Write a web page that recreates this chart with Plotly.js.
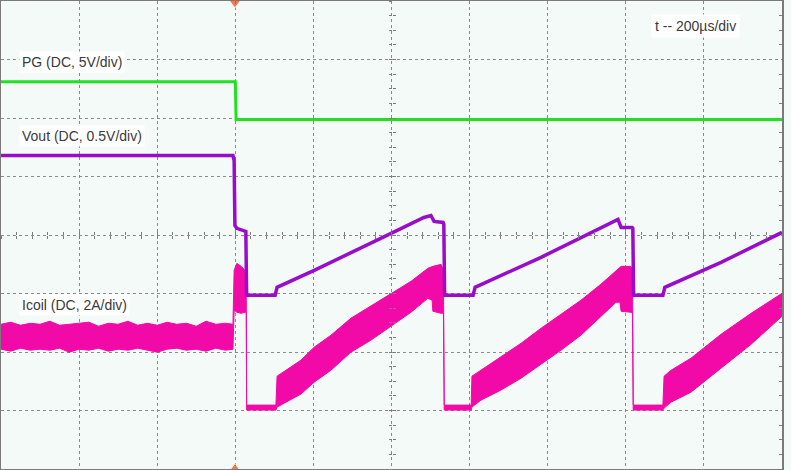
<!DOCTYPE html>
<html><head><meta charset="utf-8">
<script src="https://cdn.plot.ly/plotly-3.0.1.min.js"></script>
<style>html,body{margin:0;padding:0;background:#f4faf7}#chart{width:791px;height:470px}</style>
</head><body><div id="chart"></div>
<script>
// Time axis in microseconds (200 µs/div, 10 div); vertical values in screen divisions (0 = bottom, 8 = top)
const pgTime = [0, 600, 602, 2000];
const pgDiv  = [6.621, 6.621, 5.973, 5.973];

const voutTime = [0, 594, 597, 599, 604, 625, 627, 629, 702, 707, 802, 999, 1083, 1101, 1109, 1132, 1134, 1136, 1209, 1214, 1383, 1580, 1588, 1616, 1618, 1620, 1695, 1700, 1844, 2000];
const voutDiv  = [5.358, 5.358, 5.273, 4.164, 4.113, 4.078, 4.061, 2.969, 2.969, 3.106, 3.396, 4.027, 4.300, 4.334, 4.232, 4.215, 4.181, 2.969, 2.969, 3.106, 3.618, 4.266, 4.130, 4.130, 4.113, 2.969, 2.969, 3.106, 3.532, 4.044];

const icoilTime = [0, 25, 50, 75, 100, 125, 150, 175, 200, 225, 250, 275, 300, 325, 350, 375, 400, 425, 450, 475, 500, 525, 550, 575, 594,
  597, 604, 615, 625, 628, 629, 704,
  707, 730, 768, 802, 845, 896, 947, 999, 1050, 1093, 1104, 1106, 1127, 1133, 1135, 1204,
  1206, 1229, 1280, 1332, 1383, 1434, 1485, 1536, 1575, 1585, 1588, 1613, 1617, 1619, 1695,
  1698, 1716, 1767, 1844, 1921, 2000];
const icoilHigh = [2.474, 2.509, 2.457, 2.491, 2.474, 2.526, 2.457, 2.474, 2.491, 2.509, 2.440, 2.491, 2.474, 2.526, 2.457, 2.491, 2.457, 2.509, 2.474, 2.491, 2.440, 2.526, 2.474, 2.491, 2.474,
  3.396, 3.515, 3.464, 3.396, 3.396, 1.092, 1.092,
  1.587, 1.689, 1.860, 2.082, 2.287, 2.577, 2.782, 3.003, 3.208, 3.430, 3.464, 3.464, 3.498, 3.396, 1.092, 1.092,
  1.587, 1.689, 1.911, 2.150, 2.406, 2.645, 2.884, 3.157, 3.396, 3.447, 3.464, 3.464, 3.413, 1.092, 1.092,
  1.587, 1.689, 1.894, 2.304, 2.662, 3.003];
const icoilLow  = [2.048, 2.014, 2.065, 2.031, 2.048, 2.031, 2.065, 1.997, 2.048, 2.031, 2.065, 2.014, 2.048, 2.031, 2.065, 2.031, 1.997, 2.048, 2.065, 2.031, 2.048, 2.014, 2.065, 2.031, 2.048,
  2.713, 2.679, 2.662, 2.679, 2.679, 1.007, 1.007,
  1.058, 1.143, 1.280, 1.485, 1.689, 1.997, 2.201, 2.440, 2.679, 2.918, 2.884, 2.696, 2.662, 2.662, 1.007, 1.007,
  1.058, 1.177, 1.348, 1.553, 1.792, 2.031, 2.287, 2.611, 2.850, 2.850, 2.696, 2.679, 2.662, 1.007, 1.007,
  1.041, 1.143, 1.314, 1.724, 2.133, 2.611];

const triggerTime = [599, 599];
const triggerDiv = [8, 0];
const levelMarkerTime = [2012, 2012, 2012, 2012];
const levelMarkerDiv = [6.314, 5.973, 2.986, 1.007];
const levelMarkerColors = ['#20e020', '#20e020', '#f20aa8', '#f20aa8'];

const labels = ['PG (DC, 5V/div)', 'Vout (DC, 0.5V/div)', 'Icoil (DC, 2A/div)', 't -- 200µs/div'];

const PG_COLOR = '#20e020', VOUT_COLOR = '#9a0ccc', ICOIL_COLOR = '#f20aa8';

const traces = [
  {x: icoilTime.concat(icoilTime.slice().reverse()), y: icoilHigh.concat(icoilLow.slice().reverse()),
   type: 'scatter', mode: 'lines', fill: 'toself', fillcolor: ICOIL_COLOR,
   line: {color: ICOIL_COLOR, width: 1}, hoverinfo: 'skip'},
  {x: voutTime, y: voutDiv, type: 'scatter', mode: 'lines', line: {color: VOUT_COLOR, width: 3.5}, hoverinfo: 'skip'},
  {x: pgTime, y: pgDiv, type: 'scatter', mode: 'lines', line: {color: PG_COLOR, width: 3}, hoverinfo: 'skip'},
  {x: triggerTime, y: triggerDiv, type: 'scatter', mode: 'markers', cliponaxis: false,
   marker: {symbol: ['triangle-down', 'triangle-up'], size: [14, 11], color: '#ff4010'}, hoverinfo: 'skip'},
  {x: levelMarkerTime, y: levelMarkerDiv, type: 'scatter', mode: 'markers', cliponaxis: false,
   marker: {symbol: 'triangle-left', size: 6, color: levelMarkerColors}, hoverinfo: 'skip'},
  {x: [0], y: [0], xaxis: 'x2', yaxis: 'y2', mode: 'markers', marker: {opacity: 0}, hoverinfo: 'skip'},
  {x: [0], y: [0], xaxis: 'x3', yaxis: 'y3', mode: 'markers', marker: {opacity: 0}, hoverinfo: 'skip'}
];

const tickCol = '#7d7d7d';
const centerX = {range: [0, 2000], showgrid: false, zeroline: false, showline: false, showticklabels: false,
  anchor: 'free', position: 0.5, overlaying: 'x', side: 'bottom', tickmode: 'linear', tick0: 0, dtick: 200,
  ticklen: 3, tickcolor: tickCol, minor: {dtick: 40, ticklen: 3, tickcolor: tickCol}};
const centerY = {range: [0, 8], showgrid: false, zeroline: false, showline: false, showticklabels: false,
  anchor: 'free', position: 0.5, overlaying: 'y', side: 'left', tickmode: 'linear', tick0: 0, dtick: 1,
  ticklen: 3, tickcolor: tickCol, minor: {dtick: 0.25, ticklen: 3, tickcolor: tickCol}};

const annFont = {family: 'Liberation Sans, Arial, sans-serif', size: 14, color: '#3a3a3a'};
const layout = {
  width: 791, height: 470,
  margin: {l: 1, r: 9, t: 1, b: 1, autoexpand: false},
  paper_bgcolor: '#f4faf7', plot_bgcolor: '#f4faf7',
  showlegend: false,
  xaxis: {range: [0, 2000], tickmode: 'linear', tick0: 0, dtick: 200, showgrid: true,
    gridcolor: '#8a8a8a', griddash: 'dot', gridwidth: 1, zeroline: false,
    showline: true, mirror: true, linecolor: '#7a7a7a', linewidth: 2, showticklabels: false, ticks: ''},
  yaxis: {range: [0, 8], tickmode: 'linear', tick0: 0, dtick: 1, showgrid: true,
    gridcolor: '#8a8a8a', griddash: 'dot', gridwidth: 1, zeroline: false, side: 'right',
    showline: true, mirror: true, linecolor: '#7a7a7a', linewidth: 2, showticklabels: false,
    ticks: '', minor: {dtick: 0.25, ticks: 'inside', ticklen: 3, tickcolor: tickCol}},
  xaxis2: Object.assign({}, centerX, {ticks: 'inside', minor: Object.assign({}, centerX.minor, {ticks: 'inside'})}),
  xaxis3: Object.assign({}, centerX, {ticks: 'outside', minor: Object.assign({}, centerX.minor, {ticks: 'outside'})}),
  yaxis2: Object.assign({}, centerY, {ticks: 'inside', minor: Object.assign({}, centerY.minor, {ticks: 'inside'})}),
  yaxis3: Object.assign({}, centerY, {ticks: 'outside', minor: Object.assign({}, centerY.minor, {ticks: 'outside'})}),
  annotations: [
    {text: labels[0], xref: 'paper', yref: 'paper', x: 0.023, y: 0.870, xanchor: 'left', yanchor: 'middle', showarrow: false, bgcolor: '#ffffff', borderpad: 2, font: annFont},
    {text: labels[1], xref: 'paper', yref: 'paper', x: 0.023, y: 0.712, xanchor: 'left', yanchor: 'middle', showarrow: false, bgcolor: '#ffffff', borderpad: 2, font: annFont},
    {text: labels[2], xref: 'paper', yref: 'paper', x: 0.023, y: 0.350, xanchor: 'left', yanchor: 'middle', showarrow: false, bgcolor: '#ffffff', borderpad: 2, font: annFont},
    {text: labels[3], xref: 'paper', yref: 'paper', x: 0.832, y: 0.947, xanchor: 'left', yanchor: 'middle', showarrow: false, bgcolor: '#ffffff', borderpad: 3, font: annFont}
  ]
};
Plotly.newPlot('chart', traces, layout, {staticPlot: true, displayModeBar: false});
</script>
</body></html>
